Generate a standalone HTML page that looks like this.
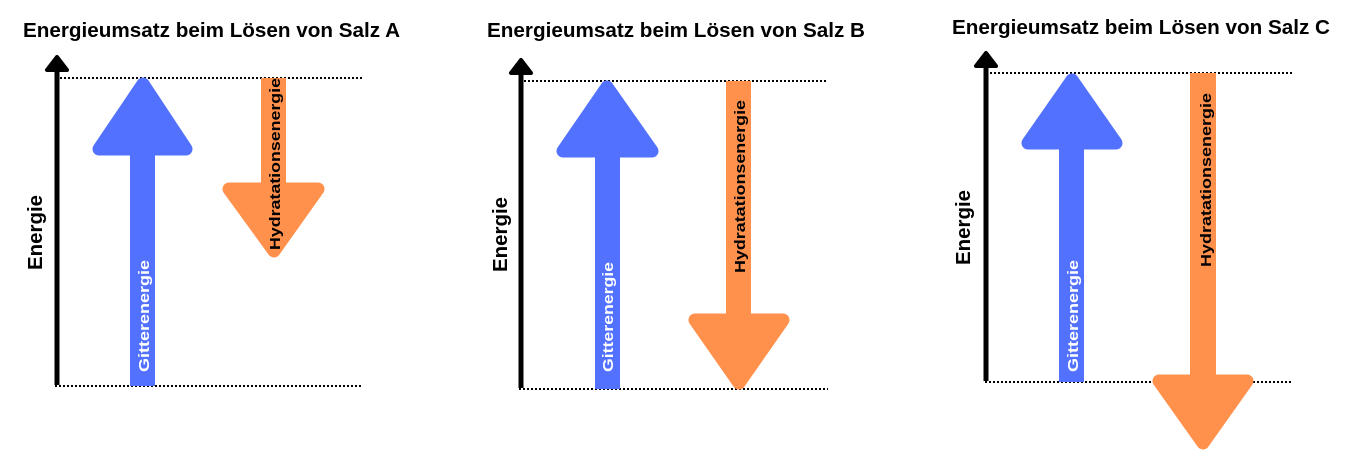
<!DOCTYPE html>
<html><head><meta charset="utf-8"><style>
html,body{margin:0;padding:0;background:#fff;width:1358px;height:460px;overflow:hidden}
text{font-family:"Liberation Sans",sans-serif;font-weight:bold}
</style></head><body>
<svg width="1358" height="460" viewBox="0 0 1358 460" xmlns="http://www.w3.org/2000/svg">
<defs>
<marker id="ah" markerWidth="4" markerHeight="4" refX="2" refY="2" orient="auto" markerUnits="strokeWidth"></marker>
</defs>
<g fill="none" stroke="#000" stroke-width="2" stroke-dasharray="2,2">
<line x1="60" y1="78" x2="363" y2="78"/><line x1="55" y1="386" x2="363" y2="386"/>
<line x1="524" y1="81" x2="828" y2="81"/><line x1="519" y1="389" x2="828" y2="389"/>
<line x1="990" y1="73" x2="1293" y2="73"/><line x1="985" y1="382" x2="1293" y2="382"/>
</g>
<!-- axes -->
<g stroke="#000" stroke-width="5">
<line x1="57" y1="385" x2="57" y2="66"/><line x1="521" y1="388" x2="521" y2="69"/><line x1="986" y1="381" x2="986" y2="62"/>
</g>
<g fill="#000" stroke="#000" stroke-width="4" stroke-linejoin="round">
<polygon points="57,57 47,70 67,70"/><polygon points="521,60 511,73 531,73"/><polygon points="986,53 976,66 996,66"/>
</g>
<!-- blue arrows -->
<g fill="#5271FF" stroke="#5271FF" stroke-linejoin="round">
<rect x="130" y="140" width="25" height="246" stroke="none"/>
<polygon points="143,84 99,149 186,149" stroke-width="13"/>
<rect x="595" y="140" width="25" height="249" stroke="none"/>
<polygon points="607,87 563,151 652,151" stroke-width="13"/>
<rect x="1059" y="130" width="25" height="252" stroke="none"/>
<polygon points="1072,80 1028,143 1116,143" stroke-width="13"/>
</g>
<!-- orange arrows -->
<g fill="#FF914D" stroke="#FF914D" stroke-linejoin="round">
<rect x="261" y="78" width="25" height="120" stroke="none"/>
<polygon points="229,189 318,189 274,251" stroke-width="13"/>
<rect x="726" y="81" width="25" height="250" stroke="none"/>
<polygon points="695,320 783,320 739,383" stroke-width="13"/>
<rect x="1190" y="73" width="26" height="320" stroke="none"/>
<polygon points="1159,381 1247,381 1203,443" stroke-width="13"/>
</g>
<!-- titles -->
<g font-size="20" fill="#000">
<text x="23" y="37" textLength="377" lengthAdjust="spacingAndGlyphs">Energieumsatz beim Lösen von Salz A</text>
<text x="487" y="37" textLength="378" lengthAdjust="spacingAndGlyphs">Energieumsatz beim Lösen von Salz B</text>
<text x="952" y="34" textLength="378" lengthAdjust="spacingAndGlyphs">Energieumsatz beim Lösen von Salz C</text>
</g>
<!-- Energie labels -->
<g font-size="20" fill="#000">
<text transform="translate(42,270) rotate(-90)" textLength="75" lengthAdjust="spacingAndGlyphs">Energie</text>
<text transform="translate(507,272) rotate(-90)" textLength="75" lengthAdjust="spacingAndGlyphs">Energie</text>
<text transform="translate(970,265) rotate(-90)" textLength="75" lengthAdjust="spacingAndGlyphs">Energie</text>
</g>
<g font-size="15" fill="#fff">
<text transform="translate(149,372) rotate(-90)" textLength="112" lengthAdjust="spacingAndGlyphs">Gitterenergie</text>
<text transform="translate(613,372) rotate(-90)" textLength="110" lengthAdjust="spacingAndGlyphs">Gitterenergie</text>
<text transform="translate(1078,372) rotate(-90)" textLength="112" lengthAdjust="spacingAndGlyphs">Gitterenergie</text>
</g>
<g font-size="15" fill="#000">
<text transform="translate(280,250) rotate(-90)" textLength="172" lengthAdjust="spacingAndGlyphs">Hydratationsenergie</text>
<text transform="translate(745,273) rotate(-90)" textLength="173" lengthAdjust="spacingAndGlyphs">Hydratationsenergie</text>
<text transform="translate(1211,267) rotate(-90)" textLength="174" lengthAdjust="spacingAndGlyphs">Hydratationsenergie</text>
</g>
</svg>
</body></html>
